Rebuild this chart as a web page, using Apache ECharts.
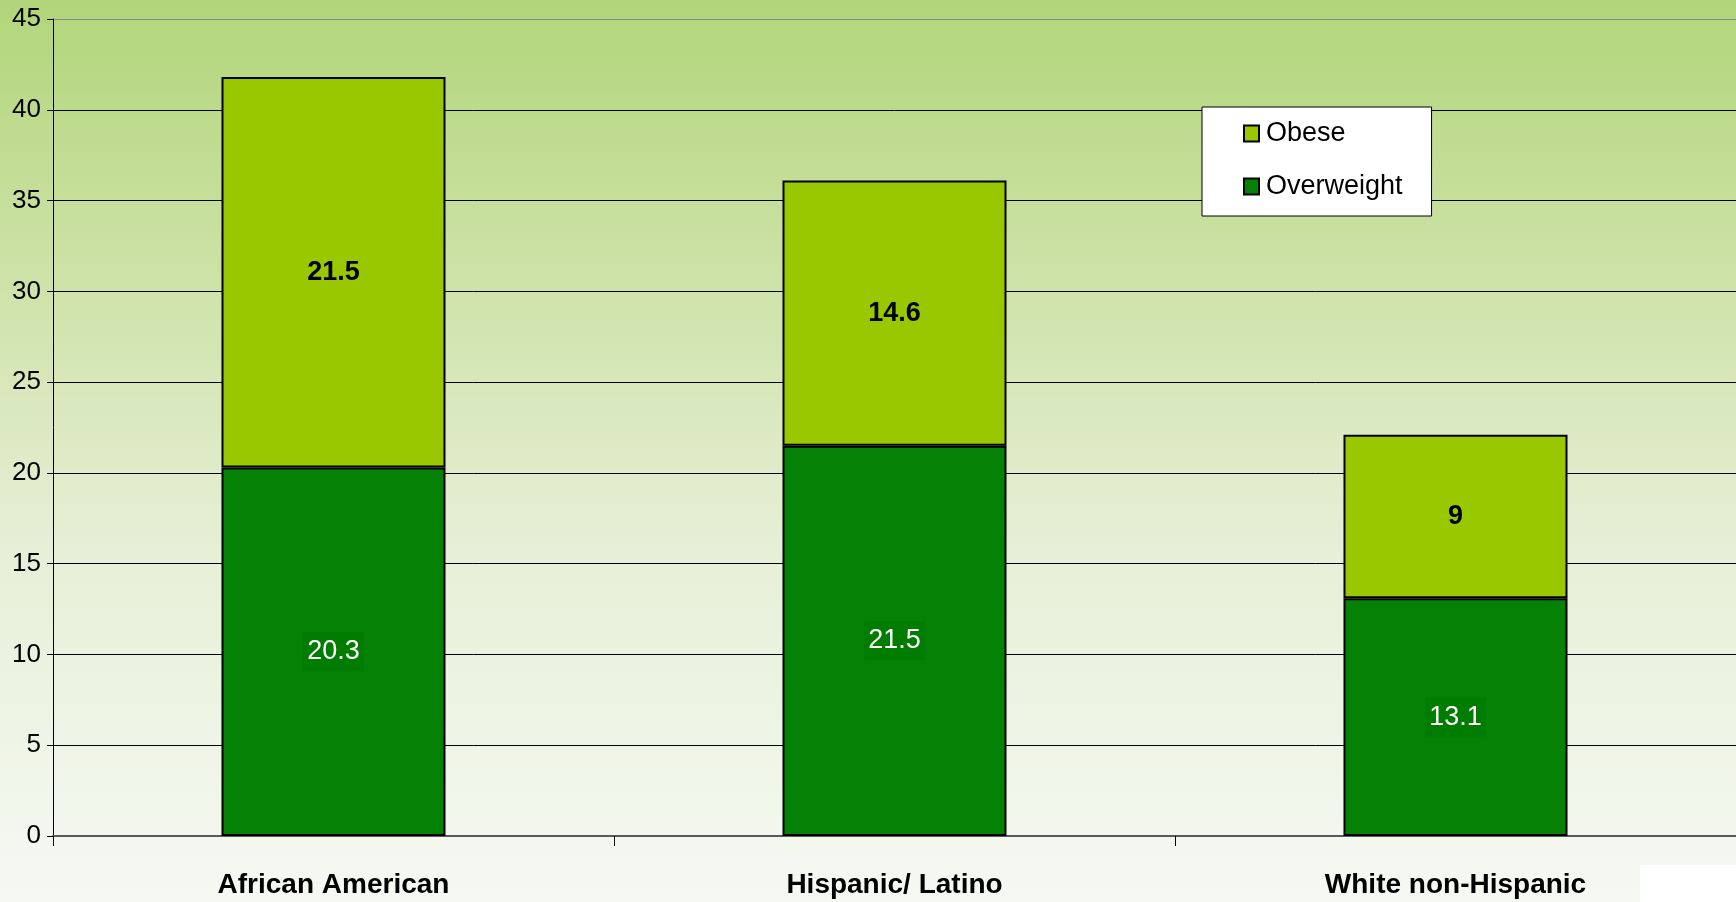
<!DOCTYPE html>
<html>
<head>
<meta charset="utf-8">
<script src="https://cdn.jsdelivr.net/npm/echarts@6/dist/echarts.min.js"></script>
<style>
  html, body { margin: 0; padding: 0; }
  #chart { width: 1736px; height: 902px; }
</style>
</head>
<body>
<div id="chart"></div>
<script>
// Groups on the horizontal axis
const categories = ['African American', 'Hispanic/ Latino', 'White non-Hispanic'];
// Percent values per group
const overweight = [20.3, 21.5, 13.1];
const obese = [21.5, 14.6, 9];
// Legend entries
const legendItems = ['Obese', 'Overweight'];

const FONT = '"Liberation Sans", Arial, sans-serif';

// Horizontal grid colours: black lines, grey top border at 45
const gridColors = ['#000', '#000', '#000', '#000', '#000', '#000', '#000', '#000', '#000', '#8a8a8a'];

const chart = echarts.init(document.getElementById('chart'), null, { renderer: 'canvas' });

chart.setOption({
  animation: false,
  backgroundColor: {
    type: 'linear', x: 0, y: 0, x2: 0, y2: 1,
    colorStops: [
      { offset: 0, color: '#b1d57a' },
      { offset: 0.3, color: '#cde2a6' },
      { offset: 0.6, color: '#e6efd6' },
      { offset: 1, color: '#f6f9f3' }
    ]
  },
  grid: { left: 53, right: 0, top: 19, bottom: 66, containLabel: false },
  legend: {
    data: legendItems,
    orient: 'vertical',
    left: 1202,
    top: 107,
    backgroundColor: '#ffffff',
    borderColor: '#000',
    borderWidth: 1,
    padding: [13, 29, 16, 41],
    itemGap: 26,
    itemWidth: 15,
    itemHeight: 16,
    icon: 'rect',
    textStyle: { fontFamily: FONT, fontSize: 27, color: '#000', padding: [0, 0, 0, 2] }
  },
  xAxis: {
    type: 'category',
    data: categories,
    axisLine: { lineStyle: { color: '#5a5a5a', width: 2 } },
    axisTick: { show: true, length: 10, lineStyle: { color: '#000', width: 1 } },
    axisLabel: {
      fontFamily: FONT, fontSize: 28, fontWeight: 'bold', color: '#000', margin: 35
    }
  },
  yAxis: {
    type: 'value',
    min: 0, max: 45, interval: 5,
    axisLine: { show: true, lineStyle: { color: '#000', width: 1 } },
    axisTick: { show: true, length: 6, lineStyle: { color: '#000' } },
    axisLabel: { fontFamily: FONT, fontSize: 26, color: '#000', margin: 12 },
    splitLine: { show: true, lineStyle: { color: gridColors, width: 1 } }
  },
  series: [
    {
      name: 'Overweight',
      type: 'bar',
      stack: 'total',
      data: overweight,
      barWidth: 224,
      itemStyle: { color: '#058205', borderColor: '#000', borderWidth: 2 },
      label: {
        show: true,
        position: 'inside',
        fontFamily: FONT,
        fontSize: 27,
        color: '#fff',
        backgroundColor: '#007c00',
        padding: [6, 4, 6, 4]
      }
    },
    {
      name: 'Obese',
      type: 'bar',
      stack: 'total',
      data: obese,
      barWidth: 224,
      itemStyle: { color: '#99c800', borderColor: '#000', borderWidth: 2 },
      label: {
        show: true,
        position: 'inside',
        fontFamily: FONT,
        fontSize: 27,
        fontWeight: 'bold',
        color: '#000'
      }
    }
  ],
  graphic: [
    {
      type: 'rect',
      right: 0, bottom: 0,
      shape: { width: 96, height: 37 },
      style: { fill: '#ffffff' },
      silent: true
    }
  ]
});
</script>
</body>
</html>
